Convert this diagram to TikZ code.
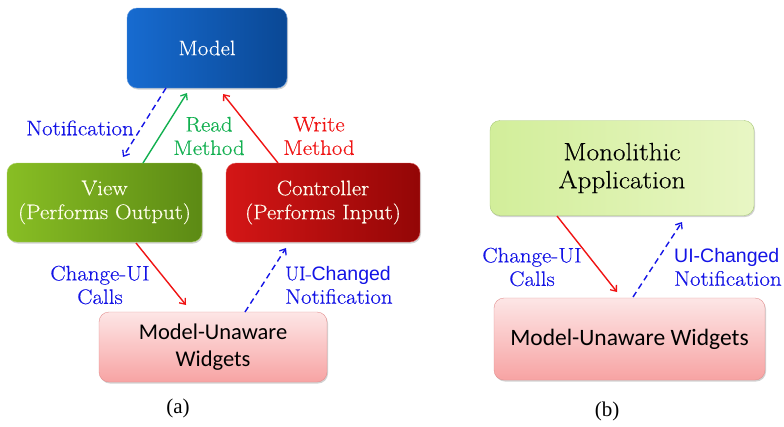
\documentclass[tikz,border=0pt]{standalone}
\usepackage{fontspec}
\setmainfont{Latin Modern Roman}[FakeStretch=1.09, FakeBold=0.4]
\newfontfamily\carlitofont{Carlito}
\newfontfamily\arialfont{Liberation Sans}
\newfontfamily\timesfont{Liberation Serif}
\newfontfamily\lmnarrow{Latin Modern Roman}[FakeBold=0.4]
\usetikzlibrary{arrows.meta,shadows}
\definecolor{mblueL}{HTML}{176BD0}
\definecolor{mblueR}{HTML}{0A4895}
\definecolor{vgreenL}{HTML}{88BE24}
\definecolor{vgreenR}{HTML}{5C8A14}
\definecolor{credL}{HTML}{D41616}
\definecolor{credR}{HTML}{930606}
\definecolor{pinkT}{HTML}{FDE6E6}
\definecolor{pinkB}{HTML}{F7A3A3}
\definecolor{pinkD}{HTML}{E39090}
\definecolor{monoL}{HTML}{D2EE9A}
\definecolor{monoR}{HTML}{E8F6C4}
\definecolor{monoD}{HTML}{A8C878}
\definecolor{lblue}{HTML}{1414E6}
\definecolor{lgreen}{HTML}{12B050}
\definecolor{lred}{HTML}{F01414}
\newcommand{\sanslbl}[1]{{\arialfont\fontsize{19.5}{23.5}\selectfont #1}}
\tikzset{
  boxbase/.style={rounded corners=10pt, align=center, inner sep=0pt,
    drop shadow={opacity=0.35, shadow xshift=1pt, shadow yshift=-1.5pt}},
  serifbig/.style={font=\fontsize{21}{24}\selectfont},
  modelbox/.style={boxbase, serifbig, left color=mblueL, right color=mblueR, draw=mblueL!70!white, text=white},
  viewbox/.style={boxbase, serifbig, left color=vgreenL, right color=vgreenR, draw=vgreenL!70!white, text=white!92!yellow},
  ctrlbox/.style={boxbase, serifbig, left color=credL, right color=credR, draw=credL!70!white, text=white!94!yellow},
  widgbox/.style={boxbase, top color=pinkT, bottom color=pinkB, draw=pinkD, text=black},
  monobox/.style={boxbase, left color=monoL, right color=monoR, draw=monoD, text=black,
    font=\fontsize{25}{28}\selectfont},
  lbl/.style={inner sep=0pt, font=\fontsize{21}{23.5}\selectfont},
  conn/.style={line width=1.4pt, -{Straight Barb[length=5pt,width=8pt,line width=1.3pt]}},
  dconn/.style={conn, dash pattern=on 6pt off 4pt},
  capt/.style={inner sep=0pt, font=\timesfont\fontsize{21}{24}\selectfont}
}
\begin{document}
\begin{tikzpicture}[x=1pt,y=-1pt]
\useasboundingbox[fill=white] (0,0) rectangle (784,426);
% ---------- panel (a)
\node[modelbox, minimum width=160pt, minimum height=80pt] (model) at (207,48) {Model};
\node[viewbox, minimum width=195pt, minimum height=79pt] (view) at (104.5,202.5) {View\\(Performs Output)};
\node[ctrlbox, minimum width=194pt, minimum height=79pt] (ctrl) at (323,202.5) {Controller\\(Performs Input)};
\node[widgbox, minimum width=228pt, minimum height=70pt, font=\carlitofont\fontsize{22.5}{27}\selectfont] (widg) at (213,347) {Model-Unaware\\Widgets};

\node[lbl, text=lblue] (lnotif) at (80,128) {Notification};
\node[lbl, text=lgreen, align=center] (lread) at (209,136) {Read\\Method};
\node[lbl, text=lred, align=center] (lwrite) at (319,136) {Write\\Method};
\node[lbl, text=lblue, align=center] (lcalls) at (100,285) {Change-UI\\Calls};
\node[lbl, text=lblue, align=left, anchor=west] (lchg) at (285,285) {{\lmnarrow\fontsize{20}{23.5}\selectfont UI-}\sanslbl{Changed}\\Notification};

\coordinate (n1) at (166,88);  \coordinate (n2) at (123,157);
\coordinate (r1) at (143,163); \coordinate (r2) at (187,93);
\coordinate (w1) at (278,163); \coordinate (w2) at (223,94);
\coordinate (c1) at (136,243); \coordinate (c2) at (186,305);
\coordinate (u1) at (245,312); \coordinate (u2) at (286,248);
\draw[dconn, lblue] (n1) -- (n2);
\draw[conn, lgreen] (r1) -- (r2);
\draw[conn, lred] (w1) -- (w2);
\draw[conn, lred] (c1) -- (c2);
\draw[dconn, lblue] (u1) -- (u2);

\node[capt] (capa) at (178,408) {(a)};

% ---------- panel (b)
\node[monobox, minimum width=264pt, minimum height=95pt] (mono) at (622,168) {Monolithic\\Application};
\node[widgbox, minimum width=271pt, minimum height=82pt, font=\carlitofont\fontsize{23.5}{27}\selectfont] (widgb) at (629.5,339) {Model-Unaware Widgets};

\node[lbl, text=lblue, align=center] (lcallsb) at (532,267) {Change-UI\\Calls};
\node[lbl, text=lblue, align=left, anchor=west] (lchgb) at (674,267) {\sanslbl{UI-Changed}\\Notification};

\coordinate (bc1) at (557,216); \coordinate (bc2) at (617,292);
\coordinate (bu1) at (633,297); \coordinate (bu2) at (682,222);
\draw[conn, lred] (bc1) -- (bc2);
\draw[dconn, lblue] (bu1) -- (bu2);

\node[capt] (capb) at (607,411) {(b)};
\end{tikzpicture}
\end{document}
